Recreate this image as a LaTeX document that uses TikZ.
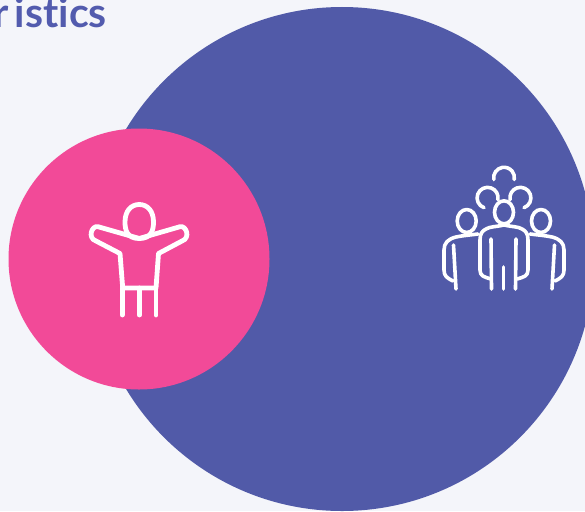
\documentclass[tikz,border=0pt]{standalone}
\usepackage{fontspec}
\setmainfont[Ligatures=NoCommon]{Lato}
\definecolor{pagebg}{HTML}{F4F5FA}
\definecolor{groupblue}{HTML}{515AA8}
\definecolor{titleblue}{HTML}{525BAE}
\definecolor{onepink}{HTML}{F24A98}
\tikzset{iconline/.style={draw=white,line width=4.8pt,line cap=round,line join=round}}
\tikzset{crowdline/.style={draw=white,line width=3.6pt,line cap=round,line join=round}}

\begin{document}
\begin{tikzpicture}[x=1pt,y=-1pt]
  \useasboundingbox (0,0) rectangle (585,511);
  \clip (0,0) rectangle (585,511);
  \fill[color=pagebg] (0,0) rectangle (585,511);

  \draw (107,28) node[anchor=base east,inner sep=0pt,text=titleblue,font=\fontsize{41}{41}\selectfont\bfseries] (title) {r\kern6pt istics};

  \fill[color=groupblue] (342,259) circle (252pt);
  \fill[color=onepink] (139,259) circle (130.5pt);

  % one person
  \draw[iconline] (139.3,238.5) .. controls (127,238.5) and (125,230) .. (125,222) .. controls (125,211) and (131,204.5) .. (139.3,204.5) .. controls (147.5,204.5) and (153.5,211) .. (153.5,222) .. controls (153.5,230) and (151.5,238.5) .. (139.3,238.5);
  \draw[iconline] (139.3,238.5) -- (98,226.7) .. controls (92,225) and (87,238) .. (96,241) -- (120,253.5) -- (122.7,288) -- (156,288) -- (158.5,253.5) -- (182,241) .. controls (191,238) and (186,225) .. (180,226.7) -- cycle;
  \draw[iconline] (122.2,288) -- (122.2,315);
  \draw[iconline] (139.3,288) -- (139.3,315);
  \draw[iconline] (156,288) -- (156,315);

  % crowd, back row
  \draw[crowdline] (493.8,179.5) arc (-190:10:10.4);
  \draw[crowdline] (484,207.7) arc (-250:10:10.5);
  \draw[crowdline] (524,207.7) arc (70:-190:10.5);

  % crowd, heads
  \draw[crowdline] (504,212.3) ellipse (9.5pt and 11.5pt);
  \draw[crowdline] (466.7,221) ellipse (9.5pt and 11.5pt);
  \draw[crowdline] (541,221) ellipse (9.5pt and 11.5pt);

  % crowd, middle body
  \draw[crowdline] (504,225) .. controls (495,227) and (490,226.5) .. (486,229) .. controls (482,231) and (480,234) .. (480,240) -- (480,270) .. controls (480,276) and (484,277) .. (491,279);
  \draw[crowdline] (504,225) .. controls (513,227) and (518,226.5) .. (522,229) .. controls (526,231) and (528,234) .. (528,240) -- (528,270) .. controls (528,276) and (524,277) .. (517,279);
  \draw[crowdline] (491,239) -- (491.5,289);
  \draw[crowdline] (503.5,267) -- (503.5,289);
  \draw[crowdline] (516,239) -- (515.5,289);

  % crowd, left and right body
  \draw[crowdline] (478,234) .. controls (470,235) and (463,235.5) .. (456,237) .. controls (448,239) and (444,243) .. (444,250) -- (444,270) .. controls (444,276) and (447,278) .. (453,281);
  \draw[crowdline] (453.5,245) -- (456,289);
  \draw[crowdline] (530,234) .. controls (538,235) and (545,235.5) .. (552,237) .. controls (560,239) and (564,243) .. (564,250) -- (564,270) .. controls (564,276) and (561,278) .. (555,281);
  \draw[crowdline] (554.5,245) -- (552,289);
\end{tikzpicture}
\end{document}
